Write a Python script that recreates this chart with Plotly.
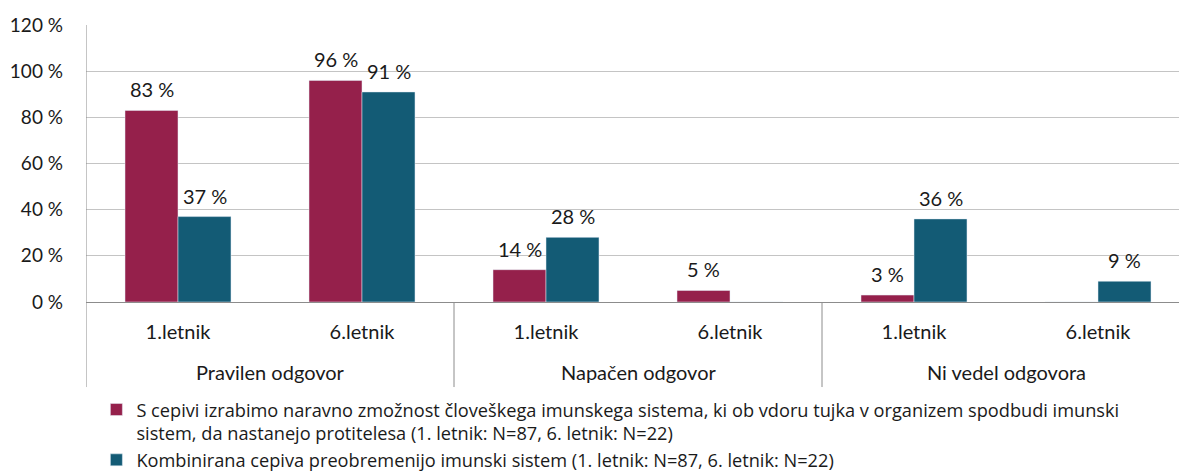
import plotly.graph_objects as go

# Sub-categories (year of study) and their answer groups
years = ["1.letnik", "6.letnik", "1.letnik", "6.letnik", "1.letnik", "6.letnik"]
groups = ["Pravilen odgovor", "Napačen odgovor", "Ni vedel odgovora"]

# Percentages per statement
statement_a = [83, 96, 14, 5, 3, 0]
statement_b = [37, 91, 28, 0, 36, 9]

name_a = ("S cepivi izrabimo naravno zmožnost človeškega imunskega sistema, ki ob vdoru tujka v organizem spodbudi imunski"
          "<br>sistem, da nastanejo protitelesa (1. letnik: N=87, 6. letnik: N=22)")
name_b = "Kombinirana cepiva preobremenijo imunski sistem (1. letnik: N=87, 6. letnik: N=22)"

y_ticks = [0, 20, 40, 60, 80, 100, 120]

RED = "#95204B"
BLUE = "#135B75"
FONT = "Lato"
FS = 20
TEXT = "#1a1a1a"
BAR_W = 0.288

xs = list(range(len(years)))

fig = go.Figure()
fig.add_trace(go.Bar(x=xs, y=statement_a, name=name_a, marker_color=RED,
                     width=BAR_W, offset=-BAR_W))
fig.add_trace(go.Bar(x=xs, y=statement_b, name=name_b, marker_color=BLUE,
                     width=BAR_W, offset=0))

# Value labels above each non-zero bar
for vals, off in ((statement_a, -BAR_W / 2), (statement_b, BAR_W / 2)):
    for x, v in zip(xs, vals):
        if v > 0:
            fig.add_annotation(x=x + off, y=v, text=f"{v} %", showarrow=False,
                               yanchor="middle", yshift=21,
                               font=dict(family=FONT, size=FS, color=TEXT))

# Group labels under the year labels
for i, g in enumerate(groups):
    fig.add_annotation(x=2 * i + 0.5, y=-0.253, yref="paper", text=g, showarrow=False,
                       yanchor="middle", font=dict(family=FONT, size=FS, color=TEXT))

# Group separators and the extended left axis line
AXIS_GRAY = "#8c8c8c"
for xb in (1.5, 3.5):
    fig.add_shape(type="line", x0=xb, x1=xb, y0=0, y1=-0.307, xref="x", yref="paper",
                  line=dict(color=AXIS_GRAY, width=1))
fig.add_shape(type="line", x0=-0.5, x1=-0.5, y0=1, y1=-0.307, xref="x", yref="paper",
              line=dict(color=AXIS_GRAY, width=1))

fig.update_layout(
    width=1179, height=473,
    margin=dict(l=86, r=0, t=25, b=171, autoexpand=False),
    plot_bgcolor="white", paper_bgcolor="white",
    barmode="overlay",
    font=dict(family=FONT, size=FS, color=TEXT),
    showlegend=True,
    legend=dict(x=0.0095, y=-0.322, xanchor="left", yanchor="top",
                orientation="v", bgcolor="rgba(0,0,0,0)", valign="top",
                font=dict(family="Open Sans", size=18.2, color=TEXT),
                tracegroupgap=0, itemclick=False),
    xaxis=dict(range=[-0.5, (1179 - 86) / 184 - 0.5], tickvals=xs, ticktext=years,
               showgrid=False, zeroline=False, showline=False,
               ticks="outside", ticklen=12, tickcolor="rgba(0,0,0,0)",
               tickfont=dict(family=FONT, size=FS), fixedrange=True),
    yaxis=dict(range=[0, 120], tickvals=y_ticks, ticktext=[f"{t} %" for t in y_ticks],
               showgrid=True, gridcolor="#c4c4c4", gridwidth=1,
               zeroline=True, zerolinecolor=AXIS_GRAY, zerolinewidth=1,
               showline=False, ticks="", ticklabelstandoff=22,
               tickfont=dict(family=FONT, size=19), fixedrange=True),
)

fig.write_html("out.html")
